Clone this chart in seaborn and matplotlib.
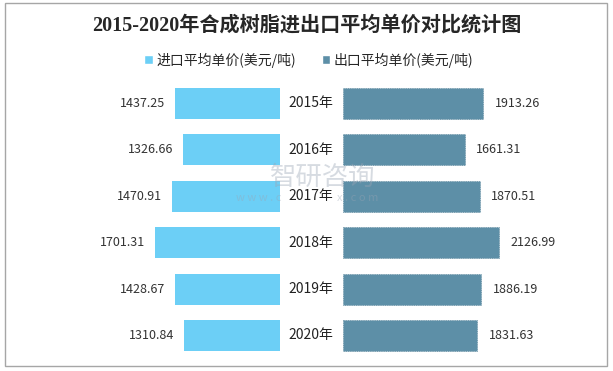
import matplotlib
matplotlib.use("Agg")
import matplotlib.pyplot as plt
import matplotlib.transforms as mtransforms
from matplotlib.patches import Patch, Rectangle
import seaborn as sns
import pandas as pd

# ---- data ----
years = ["2015年", "2016年", "2017年", "2018年", "2019年", "2020年"]
import_price = [1437.25, 1326.66, 1470.91, 1701.31, 1428.67, 1310.84]
export_price = [1913.26, 1661.31, 1870.51, 2126.99, 1886.19, 1831.63]
title = "2015-2020年合成树脂进出口平均单价对比统计图"
import_label = "进口平均单价(美元/吨)"
export_label = "出口平均单价(美元/吨)"

df = pd.DataFrame({"year": years, "imp": import_price, "exp": export_price})

sns.set_style("white")
plt.rcParams["font.family"] = ["Noto Sans CJK SC", "DejaVu Sans"]

C_IMP = "#6CCFF6"
C_EXP = "#5D8FA7"

W, H = 613, 371
fig = plt.figure(figsize=(W / 100, H / 100), dpi=100)

# axes geometry in pixels
top_px, bot_px = 80.3, 358.7
ax_h = (bot_px - top_px) / H
ax_b = (H - bot_px) / H
span_px = 240
xmax = span_px / 0.0734

ax_l = fig.add_axes([40 / W, ax_b, span_px / W, ax_h])
ax_r = fig.add_axes([343 / W, ax_b, span_px / W, ax_h])

sns.barplot(data=df, x="imp", y="year", orient="h", ax=ax_l, color=C_IMP,
            width=0.67, saturation=1, linewidth=0)
sns.barplot(data=df, x="exp", y="year", orient="h", ax=ax_r, color=C_EXP,
            width=0.67, saturation=1, edgecolor="#507E94", linewidth=0.4,
            linestyle=(0, (2, 2)))

ax_l.set_xlim(xmax, 0)
ax_r.set_xlim(0, xmax)
for ax in (ax_l, ax_r):
    ax.set_ylim(5.5, -0.5)
    ax.set_xlabel("")
    ax.set_ylabel("")
    ax.set_xticks([])
    ax.set_yticks([])
    for s in ax.spines.values():
        s.set_visible(False)
    ax.patch.set_alpha(0)

ax_l.bar_label(ax_l.containers[0], labels=[f"{v:.2f}" for v in import_price],
               padding=7, fontsize=9, color="#333333")
ax_r.bar_label(ax_r.containers[0], labels=[f"{v:.2f}" for v in export_price],
               padding=8, fontsize=9, color="#333333")

trans = mtransforms.blended_transform_factory(ax_r.transAxes, ax_r.transData)
for i, y in enumerate(years):
    ax_r.text((311 - 343) / span_px, i, y, transform=trans, ha="center",
              va="center", fontsize=10, color="#222222", zorder=5)

# title
fig.text(307 / W, 1 - 26 / H, title, ha="center", va="center",
         fontsize=14.5, fontweight="bold", color="#262626",
         family=["Liberation Serif", "Noto Sans CJK SC"])

# legend
handles = [Patch(facecolor=C_IMP, label=import_label),
           Patch(facecolor=C_EXP, label=export_label)]
fig.legend(handles=handles, loc="center", bbox_to_anchor=(309 / W, 1 - 60 / H),
           ncol=2, frameon=False, fontsize=10, handlelength=0.6,
           handleheight=0.6, handletextpad=0.3, columnspacing=1.8)

# watermark
wm = dict(color="#9AA5B5", alpha=0.4, va="center")
fig.text(323 / W, 1 - 177 / H, "智研咨询", ha="center", fontsize=19, **wm)
fig.text(236 / W, 1 - 198 / H, "w w w . c", ha="left", fontsize=8, **wm)
fig.text(378 / W, 1 - 198 / H, "x . c o m", ha="right", fontsize=8, **wm)

# outer border
fig.patches.append(Rectangle((5 / W, 5 / H), 602 / W, 363 / H,
                             transform=fig.transFigure, fill=False,
                             edgecolor="#A6A6A6", linewidth=1.0))

fig.savefig("out.png", dpi=100)
